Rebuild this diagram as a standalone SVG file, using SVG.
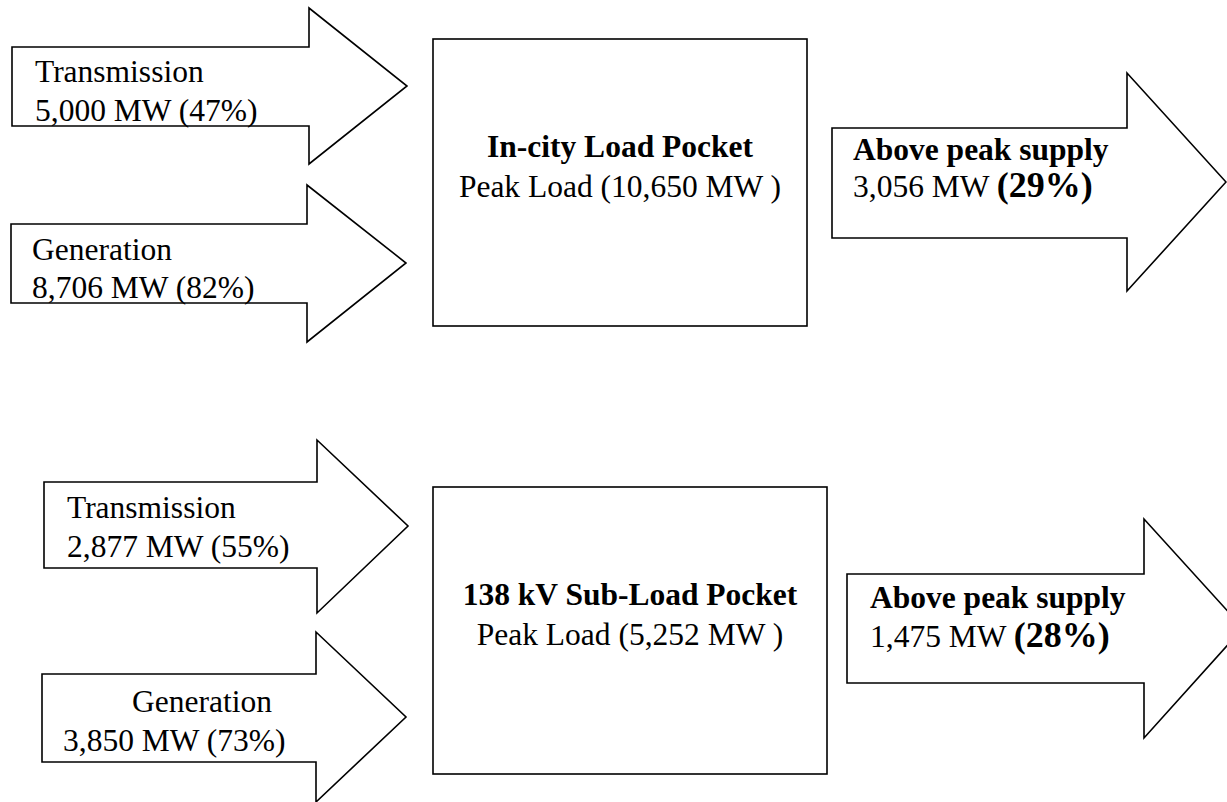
<svg xmlns="http://www.w3.org/2000/svg" width="1227" height="802" viewBox="0 0 1227 802">
<style>
.shape{fill:#fff;stroke:#000;stroke-width:1.6;stroke-linejoin:miter}
text{font-family:"Liberation Serif","Times New Roman",serif;font-size:31.5px;fill:#000}
.b{font-weight:bold}
.big{font-weight:bold;font-size:36px}
.c{text-anchor:middle}
</style>
<rect width="1227" height="802" fill="#fff"/>
<g id="connectors">
<g id="arrow-transmission-top">
<path class="shape" d="M12,47 H309 V8 L407,86 L309,164 V126 H12 Z"/>
<text x="35" y="82">Transmission</text>
<text x="35" y="121">5,000 MW (47%)</text>
</g>
<g id="arrow-generation-top">
<path class="shape" d="M11,224 H307 V185 L406,263 L307,342 V303 H11 Z"/>
<text x="32" y="260">Generation</text>
<text x="32" y="298">8,706 MW (82%)</text>
</g>
<g id="arrow-supply-top">
<path class="shape" d="M832,128 H1127 V73 L1226,182 L1127,291 V238 H832 Z"/>
<text class="b" x="853" y="160">Above peak supply</text>
<text x="853" y="197">3,056 MW <tspan class="big">(29%)</tspan></text>
</g>
<g id="arrow-transmission-bottom">
<path class="shape" d="M44,482 H317 V440 L408,526 L317,613 V568 H44 Z"/>
<text x="67" y="518">Transmission</text>
<text x="67" y="557">2,877 MW (55%)</text>
</g>
<g id="arrow-generation-bottom">
<path class="shape" d="M42,674 H316 V632 L406,717 L316,802 V762 H42 Z"/>
<text x="132" y="712">Generation</text>
<text x="63" y="751">3,850 MW (73%)</text>
</g>
<g id="arrow-supply-bottom">
<path class="shape" d="M847,574 H1144 V519 L1243,628 L1144,738 V683 H847 Z"/>
<text class="b" x="870" y="608">Above peak supply</text>
<text x="870" y="647">1,475 MW <tspan class="big">(28%)</tspan></text>
</g>
</g>
<g id="node-incity">
<rect class="shape" x="433" y="39" width="374" height="287"/>
<text class="b c" x="620" y="157">In-city Load Pocket</text>
<text class="c" x="620" y="197">Peak Load (10,650 MW )</text>
</g>
<g id="node-138kv">
<rect class="shape" x="433" y="487" width="394" height="287"/>
<text class="b c" x="630" y="605">138 kV Sub-Load Pocket</text>
<text class="c" x="630" y="645">Peak Load (5,252 MW )</text>
</g>
</svg>
